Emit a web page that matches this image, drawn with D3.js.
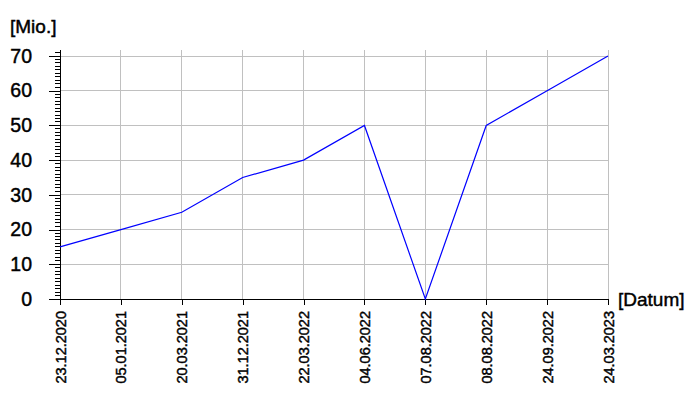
<!DOCTYPE html>
<html>
<head>
<meta charset="utf-8">
<script src="https://cdn.jsdelivr.net/npm/d3@7"></script>
<style>
  html, body { margin: 0; padding: 0; background: #fff; }
  svg { display: block; font-family: "Liberation Sans", Arial, sans-serif; }
  text { stroke: #000; stroke-width: 0.45px; }
</style>
</head>
<body>
<svg id="chart" width="700" height="400"></svg>
<script>
const categories = ["23.12.2020","05.01.2021","20.03.2021","31.12.2021","22.03.2022","04.06.2022","07.08.2022","08.08.2022","24.09.2022","24.03.2023"];
const values = [15, 20, 25, 35, 40, 50, 0, 50, 60, 70];
const yTicks = [0, 10, 20, 30, 40, 50, 60, 70];
const yTitle = "[Mio.]";
const xTitle = "[Datum]";

(function () {
const svg = d3.select("#chart");
const mLeft = 60, mRight = 608, mTop = 56, mBottom = 299;

const x = d3.scalePoint().domain(categories).range([mLeft, mRight]);
const y = d3.scaleLinear().domain([0, 70]).range([mBottom, mTop]);
const yTopVal = 71.7;
const gridTop = y(yTopVal);

const grid = svg.append("g").attr("shape-rendering", "crispEdges").attr("stroke", "#c0c0c0").attr("stroke-width", 1);
grid.selectAll("line.h").data(yTicks.filter(d => d > 0)).join("line").attr("class", "h")
  .attr("x1", mLeft).attr("x2", mRight).attr("y1", d => y(d)).attr("y2", d => y(d));
grid.selectAll("line.v").data(categories.slice(1)).join("line").attr("class", "v")
  .attr("x1", d => x(d)).attr("x2", d => x(d)).attr("y1", gridTop).attr("y2", mBottom);

// y axis with major + minor ticks
const yAxis = d3.axisLeft(y).tickValues(yTicks).tickSize(11).tickPadding(17).tickSizeOuter(0);
const yg = svg.append("g").attr("transform", `translate(${mLeft},0)`).call(yAxis);
yg.select(".domain").remove();
yg.selectAll(".tick line").attr("shape-rendering", "crispEdges");
yg.selectAll(".tick text").attr("font-size", 19.5).attr("fill", "#000")
  .attr("font-family", "Liberation Sans, Arial, sans-serif");
const minor = d3.range(0, 72).filter(v => v % 10 !== 0);
svg.append("g").attr("shape-rendering", "crispEdges").selectAll("line").data(minor).join("line")
  .attr("x1", mLeft - 5).attr("x2", mLeft).attr("y1", d => y(d)).attr("y2", d => y(d)).attr("stroke", "#000");
svg.append("line").attr("shape-rendering", "crispEdges").attr("stroke", "#000")
  .attr("x1", mLeft).attr("x2", mLeft).attr("y1", gridTop).attr("y2", mBottom + 6);

// x axis
const xAxis = d3.axisBottom(x).tickSize(6).tickSizeOuter(0);
const xg = svg.append("g").attr("transform", `translate(0,${mBottom})`).call(xAxis);
xg.select(".domain").remove();
xg.selectAll(".tick line").attr("shape-rendering", "crispEdges");
xg.selectAll(".tick text")
  .attr("font-size", 14.5).attr("fill", "#000")
  .attr("font-family", "Liberation Sans, Arial, sans-serif")
  .attr("text-anchor", "end").attr("transform", "rotate(-90)")
  .attr("x", -12).attr("y", 0).attr("dy", "0.35em");
svg.append("line").attr("shape-rendering", "crispEdges").attr("stroke", "#000")
  .attr("x1", mLeft - 10).attr("x2", mRight).attr("y1", mBottom).attr("y2", mBottom);

// line
const line = d3.line().x((d, i) => x(categories[i])).y(d => y(d));
svg.append("path").datum(values).attr("d", line).attr("fill", "none").attr("stroke", "#0000ff").attr("stroke-width", 1.2);

// titles
svg.append("text").attr("x", 10).attr("y", 33).attr("font-size", 19).text(yTitle);
svg.append("text").attr("x", 618).attr("y", 306).attr("font-size", 19).text(xTitle);
})();
</script>
</body>
</html>
